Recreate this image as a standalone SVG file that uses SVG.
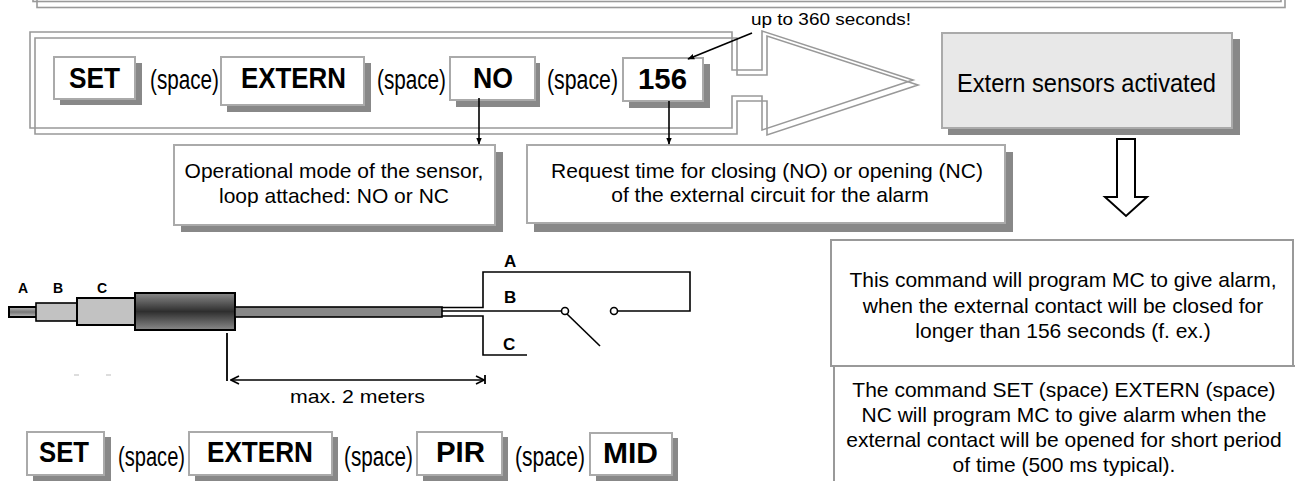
<svg xmlns="http://www.w3.org/2000/svg" width="1295" height="481" viewBox="0 0 1295 481">
<style>
.frame{fill:none;stroke:#999;stroke-width:1.6}
.box{fill:#fff;stroke:#aaa;stroke-width:2}
.gbox{fill:#e8e8e8;stroke:#aaa;stroke-width:2}
.shadow{fill:#888}
.note{fill:#fff;stroke:#999;stroke-width:2}
text{font-family:"Liberation Sans",Arial,sans-serif;fill:#000}
.k{font-size:29px;font-weight:bold}
.sp{font-size:27px}
.t21{font-size:21px}
.ws{fill:none;stroke:#000;stroke-width:1.6}
.con{fill:none;stroke:#000;stroke-width:1.6}
.lab{font-size:17px;font-weight:bold}
.clab{font-size:14px;font-weight:bold}
</style>
<defs>
<marker id="ah" viewBox="0 0 10 10" refX="9" refY="5" markerWidth="7" markerHeight="7" orient="auto" markerUnits="userSpaceOnUse">
<path d="M0,1 L10,5 L0,9 Z" fill="#000"/>
</marker>
<marker id="oh" viewBox="0 0 10 10" refX="9" refY="5" markerWidth="10" markerHeight="10" orient="auto-start-reverse" markerUnits="userSpaceOnUse">
<path d="M1,1 L9,5 L1,9" fill="none" stroke="#000" stroke-width="1.6"/>
</marker>
<linearGradient id="hg" x1="0" y1="0" x2="0" y2="1">
<stop offset="0" stop-color="#8a8a8a"/>
<stop offset="0.5" stop-color="#2e2e2e"/>
<stop offset="1" stop-color="#8a8a8a"/>
</linearGradient>
<linearGradient id="tg" x1="0" y1="0" x2="0" y2="1">
<stop offset="0" stop-color="#bbb"/>
<stop offset="0.5" stop-color="#777"/>
<stop offset="1" stop-color="#bbb"/>
</linearGradient>
</defs>

<!-- top frame (cut off at top) -->
<g id="top-frame">
<rect class="frame" x="33" y="-12" width="1248" height="13.5"/>
<rect class="frame" x="37" y="-6" width="1248" height="13.5"/>
</g>

<!-- big arrow frame -->
<g id="command-arrow">
<path class="frame" d="M30,32 H732 V70 H762 V31 L913,80 L762,130 V96 H732 V128 H30 Z"/>
<path class="frame" d="M35,38 H737 V75 H767 V36 L918,85 L767,135 V101 H737 V134 H35 Z"/>
</g>

<g id="set1">
<rect class="shadow" x="60" y="63" width="82" height="42"/>
<rect class="box" x="54" y="57" width="81" height="42"/>
<text class="k" x="69" y="88" textLength="51" lengthAdjust="spacingAndGlyphs">SET</text>
</g>
<text class="sp" x="150" y="89" textLength="69" lengthAdjust="spacingAndGlyphs">(space)</text>
<g id="extern1">
<rect class="shadow" x="227" y="63" width="144" height="49"/>
<rect class="box" x="221" y="57" width="143" height="48"/>
<text class="k" x="241" y="88" textLength="105" lengthAdjust="spacingAndGlyphs">EXTERN</text>
</g>
<text class="sp" x="377" y="89" textLength="69" lengthAdjust="spacingAndGlyphs">(space)</text>
<g id="no1">
<rect class="shadow" x="456" y="63" width="84" height="44"/>
<rect class="box" x="450" y="57" width="85" height="43"/>
<text class="k" x="473" y="88" textLength="40" lengthAdjust="spacingAndGlyphs">NO</text>
</g>
<text class="sp" x="547" y="89" textLength="71" lengthAdjust="spacingAndGlyphs">(space)</text>
<g id="t156">
<rect class="shadow" x="629" y="64" width="81" height="44"/>
<rect class="box" x="623" y="58" width="80" height="43"/>
<text class="k" x="638" y="89" textLength="49" lengthAdjust="spacingAndGlyphs">156</text>
</g>

<text id="upto" x="751" y="25" font-size="16" textLength="160" lengthAdjust="spacingAndGlyphs">up to 360 seconds!</text>

<g id="extern-activated">
<rect class="shadow" x="948" y="39" width="292" height="96"/>
<rect class="gbox" x="942" y="33" width="290" height="95"/>
<text x="957" y="92" font-size="26" textLength="259" lengthAdjust="spacingAndGlyphs">Extern sensors activated</text>
</g>

<g id="operational">
<rect class="shadow" x="181" y="152" width="322" height="80"/>
<rect class="box" x="174" y="145" width="321" height="80"/>
<text class="t21" x="334" y="178" text-anchor="middle">Operational mode of the sensor,</text>
<text class="t21" x="334" y="203" text-anchor="middle">loop attached: NO or NC</text>
</g>

<g id="request">
<rect class="shadow" x="534" y="152" width="479" height="80"/>
<rect class="box" x="527" y="145" width="478" height="78"/>
<text class="t21" x="767" y="178" text-anchor="middle">Request time for closing (NO) or opening (NC)</text>
<text class="t21" x="770" y="202" text-anchor="middle">of the external circuit for the alarm</text>
</g>

<g id="down-arrow">
<path d="M1117,139 V197 H1105 L1126,216 L1147,197 H1135 V139 Z" fill="#fff" stroke="#000" stroke-width="2"/>
</g>

<g id="note2">
<rect class="note" x="834" y="366" width="470" height="130"/>
<text class="t21" x="1064" y="397" text-anchor="middle">The command SET (space) EXTERN (space)</text>
<text class="t21" x="1064" y="422" text-anchor="middle">NC will program MC to give alarm when the</text>
<text class="t21" x="1064" y="447" text-anchor="middle">external contact will be opened for short period</text>
<text class="t21" x="1064" y="472" text-anchor="middle">of time (500 ms typical).</text>
</g>
<g id="note1">
<rect class="note" x="831" y="240" width="462" height="126"/>
<text class="t21" x="1063" y="287" text-anchor="middle">This command will program MC to give alarm,</text>
<text class="t21" x="1063" y="313" text-anchor="middle">when the external contact will be closed for</text>
<text class="t21" x="1063" y="338" text-anchor="middle">longer than 156 seconds (f. ex.)</text>
</g>

<!-- cable and switch drawing -->
<g id="cable">
<rect x="9" y="307" width="28" height="10" fill="url(#tg)" stroke="#000" stroke-width="2"/>
<rect x="36" y="303" width="42" height="18" fill="#c2c2c2" stroke="#000" stroke-width="1.6"/>
<rect x="77" y="298" width="58" height="27" fill="#c2c2c2" stroke="#000" stroke-width="2"/>
<rect x="135" y="293" width="100" height="37" fill="url(#hg)" stroke="#000" stroke-width="2"/>
<rect x="235" y="307" width="207" height="10" fill="#888" stroke="#000" stroke-width="1.6"/>
<text class="clab" x="18" y="293">A</text>
<text class="clab" x="53" y="293">B</text>
<text class="clab" x="97" y="293">C</text>
<line x1="74" y1="375" x2="79" y2="375" stroke="#bbb" stroke-width="1"/>
<line x1="106" y1="375" x2="111" y2="375" stroke="#bbb" stroke-width="1"/>
</g>
<g id="switch">
<path class="ws" d="M442,307.5 H483 V272 H690 V311 H617.5"/>
<path class="ws" d="M442,311 H561.5"/>
<path class="ws" d="M442,316 H483 V355 H527"/>
<path class="ws" d="M567,314 L600,346"/>
<circle cx="565" cy="311" r="3.5" fill="#fff" stroke="#000" stroke-width="1.6"/>
<circle cx="614" cy="311" r="3.5" fill="#fff" stroke="#000" stroke-width="1.6"/>
<text class="lab" x="504" y="267">A</text>
<text class="lab" x="504" y="303">B</text>
<text class="lab" x="503" y="350">C</text>
</g>
<g id="dimension">
<line x1="227" y1="333" x2="227" y2="381" stroke="#000" stroke-width="1.8"/>
<line x1="485" y1="375" x2="485" y2="384" stroke="#000" stroke-width="1.8"/>
<line x1="231" y1="380" x2="484" y2="380" stroke="#000" stroke-width="1.6" marker-start="url(#oh)" marker-end="url(#oh)"/>
<text x="290" y="403" font-size="19" textLength="135" lengthAdjust="spacingAndGlyphs">max. 2 meters</text>
</g>

<!-- bottom command -->
<g id="set2">
<rect class="shadow" x="33" y="437" width="78" height="44"/>
<rect class="box" x="27" y="432" width="77" height="43"/>
<text class="k" x="39" y="462" textLength="50" lengthAdjust="spacingAndGlyphs">SET</text>
</g>
<text class="sp" x="118" y="466" textLength="67" lengthAdjust="spacingAndGlyphs">(space)</text>
<g id="extern2">
<rect class="shadow" x="195" y="437" width="143" height="44"/>
<rect class="box" x="189" y="432" width="143" height="43"/>
<text class="k" x="207" y="462" textLength="106" lengthAdjust="spacingAndGlyphs">EXTERN</text>
</g>
<text class="sp" x="344" y="466" textLength="69" lengthAdjust="spacingAndGlyphs">(space)</text>
<g id="pir">
<rect class="shadow" x="423" y="437" width="85" height="44"/>
<rect class="box" x="417" y="432" width="85" height="43"/>
<text class="k" x="436" y="462" textLength="49" lengthAdjust="spacingAndGlyphs">PIR</text>
</g>
<text class="sp" x="515" y="466" textLength="70" lengthAdjust="spacingAndGlyphs">(space)</text>
<g id="mid">
<rect class="shadow" x="596" y="438" width="82" height="43"/>
<rect class="box" x="590" y="433" width="82" height="42"/>
<text class="k" x="603" y="463" textLength="55" lengthAdjust="spacingAndGlyphs">MID</text>
</g>

<g id="connectors">
<line class="con" x1="479" y1="98" x2="479" y2="144" marker-end="url(#ah)"/>
<line class="con" x1="669" y1="101" x2="669" y2="144" marker-end="url(#ah)"/>
<line class="con" x1="752" y1="33" x2="688" y2="59" marker-end="url(#ah)"/>
</g>
</svg>
